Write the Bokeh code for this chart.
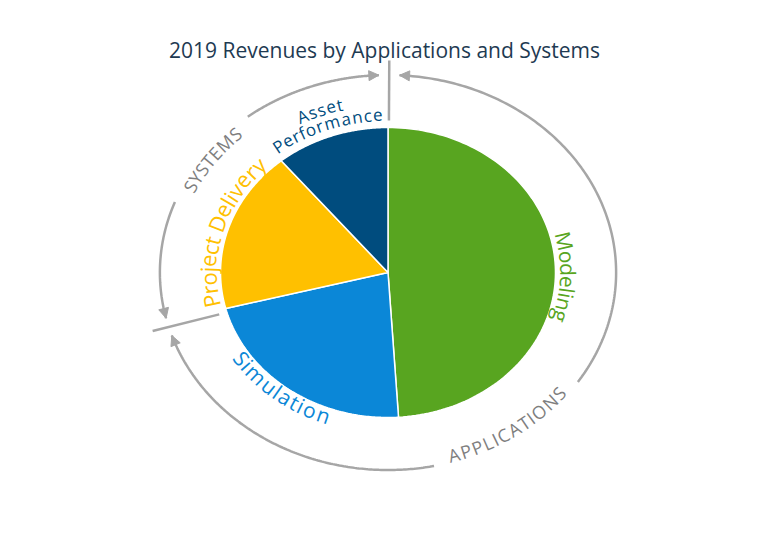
import numpy as np
from bokeh.plotting import figure
from bokeh.models import Range1d, Arrow, NormalHead
from bokeh.core.properties import value
from bokeh.embed import file_html
from bokeh.resources import INLINE

# ---------------- data ----------------
title_text = "2019 Revenues by Applications and Systems"
segments = ["Modeling", "Simulation", "Project Delivery", "Asset Performance"]
shares = [49, 22, 18, 11]
seg_colors = ["#58a520", "#0b87d7", "#ffc000", "#004c7e"]
groups = ["APPLICATIONS", "SYSTEMS"]
group_sizes = [2, 2]

# ---------------- style / layout ----------------
W, H = 753, 533
CX = 387.5
CY = 549 - 272.0
K = 1.155            # horizontal stretch of the circle
R_PIE = 145.0
R_RING = 197.5
GRAY = "#a6a6a6"
TEXT_GRAY = "#7f7f7f"
FONT = "Open Sans"

# label styles per segment: mid-line radius, tops outward?, font px, angle shift (deg)
seg_label_r = [156, 153, 156, (173, 158)]
seg_label_out = [True, False, True, True]
seg_label_fs = [21, 21, 22, 17]
seg_label_shift = [3.5, 2.5, -1.5, -0.3]
seg_label_color = ["#58a520", "#0b87d7", "#ffc000", "#004c7e"]

group_label_theta = [146.0, 306.5]
group_label_r = [191.0, 191.5]
group_label_out = [False, True]
group_label_fs = [18, 18]
divider_shift = [0.3, -1.6]

CW = dict(zip("ABCDEFGHIJKLMNOPQRSTUVWXYZ",
              [1296, 1327, 1292, 1493, 1147, 1057, 1491, 1511, 559, 547, 1255, 1081, 1842,
               1583, 1593, 1208, 1593, 1278, 1110, 1112, 1511, 1217, 1876, 1184, 1143, 1153]))
CW.update(dict(zip("abcdefghijklmnopqrstuvwxyz",
                   [1139, 1255, 975, 1255, 1149, 694, 1122, 1257, 518, 518, 1075, 518, 1905,
                    1257, 1237, 1255, 1255, 836, 977, 723, 1257, 1026, 1593, 1073, 1028, 977])))
CW[" "] = 532

# data coordinates = picture pixels (x right, y measured up from picture bottom 549)
p = figure(width=W, height=H, x_range=Range1d(0, W), y_range=Range1d(549 - H, 549),
           output_backend="svg", toolbar_location=None, min_border=0,
           x_axis_location=None, y_axis_location=None)
p.grid.visible = False
p.outline_line_color = None
p.background_fill_color = "white"
p.border_fill_color = "white"


def ell(theta, r):
    return CX + K * r * np.sin(theta), CY + r * np.cos(theta)


def curved_text(txt, r, theta_c, fs, color, outward):
    w = np.array([CW.get(c, 1150) for c in txt]) / 2048.0 * fs
    off = np.cumsum(w) - w / 2 - w.sum() / 2
    sign = 1 if outward else -1
    th = theta_c + sign * off / r
    x, y = ell(th, r)
    if outward:
        ang = np.arctan2(-r * np.sin(th), K * r * np.cos(th))
    else:
        ang = np.arctan2(r * np.sin(th), -K * r * np.cos(th))
    keep = [i for i, c in enumerate(txt) if c != " "]
    p.text(x=list(x[keep]), y=list(y[keep]), text=[txt[i] for i in keep],
           angle=list(ang[keep]), text_font=value(FONT), text_font_size=f"{fs}px",
           text_color=color, text_align="center", text_baseline="middle")


# ---------------- pie ----------------
frac = np.array(shares, dtype=float) / sum(shares)
cum = np.concatenate([[0.0], np.cumsum(frac)]) * 2 * np.pi
xs_list, ys_list = [], []
for i in range(len(shares)):
    th = np.linspace(cum[i], cum[i + 1], 120)
    ex, ey = ell(th, R_PIE)
    xs_list.append([CX] + list(ex))
    ys_list.append([CY] + list(ey))
p.patches(xs_list, ys_list, fill_color=seg_colors, line_color="white", line_width=1.5)

# segment labels
for i, name in enumerate(segments):
    tc = (cum[i] + cum[i + 1]) / 2 + np.radians(seg_label_shift[i])
    r = seg_label_r[i]
    if isinstance(r, tuple):
        words = name.split(" ")
        for wd, rr in zip(words, r):
            curved_text(wd, rr, tc, seg_label_fs[i], seg_label_color[i], seg_label_out[i])
    else:
        curved_text(name, r, tc, seg_label_fs[i], seg_label_color[i], seg_label_out[i])

# ---------------- outer ring ----------------
gcum = np.concatenate([[0], np.cumsum(group_sizes)])
bounds = [cum[gcum[j]] + np.radians(divider_shift[j]) for j in range(len(groups))]
bounds = bounds + [bounds[0] + 2 * np.pi]
GAP = np.radians(2.6)
DELTA = np.radians(2.0)
PAD = 16.0


def ring_line(t0, t1):
    th = np.linspace(t0, t1, 150)
    ex, ey = ell(th, R_RING)
    p.line(list(ex), list(ey), line_color=GRAY, line_width=2.5)


def arrow_head(t_tip, t_from):
    x0, y0 = ell(t_from, R_RING)
    x1, y1 = ell(t_tip, R_RING)
    p.add_layout(Arrow(end=NormalHead(size=10, fill_color=GRAY, line_color=GRAY, line_width=1),
                       x_start=float(x0), y_start=float(y0), x_end=float(x1), y_end=float(y1),
                       line_color=GRAY, line_width=2.5))


for j, gname in enumerate(groups):
    t0 = bounds[j] + GAP
    t1 = bounds[j + 1] - GAP
    fs = group_label_fs[j]
    wtxt = sum(CW.get(c, 1150) for c in gname) / 2048.0 * fs
    half = (wtxt / 2 + PAD) / R_RING
    tl = np.radians(group_label_theta[j])
    ring_line(t0, tl - half)
    ring_line(tl + half, t1)
    arrow_head(t0, t0 + DELTA)
    arrow_head(t1, t1 - DELTA)
    curved_text(gname, group_label_r[j], tl, fs, TEXT_GRAY, group_label_out[j])

# dividers between groups
for j in range(len(groups)):
    t = bounds[j]
    xa, ya = ell(t, 152.0)
    xb, yb = ell(t, 212.0)
    p.line([float(xa), float(xb)], [float(ya), float(yb)], line_color=GRAY, line_width=2.5)

# ---------------- title ----------------
p.text(x=[384], y=[549 - 49.5], text=[title_text], text_font=value(FONT),
       text_font_size="21px", text_color="#1e3a52", text_align="center",
       text_baseline="alphabetic")

open("out.html", "w").write(file_html(p, INLINE))
